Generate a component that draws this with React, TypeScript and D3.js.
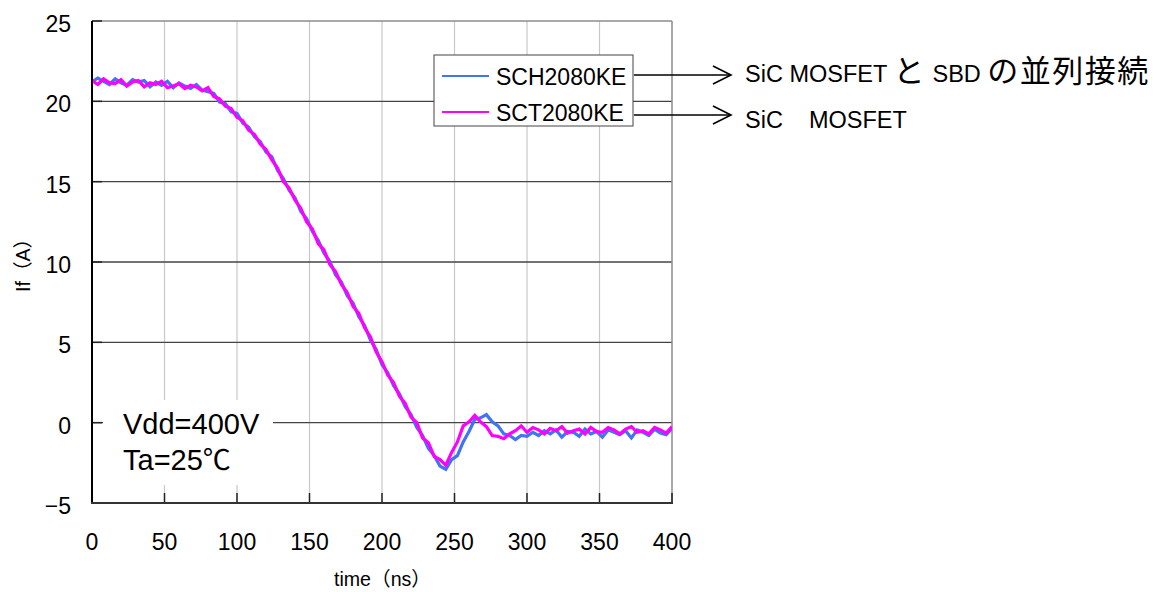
import React from 'react';
import * as d3 from 'd3';

// time axis (ns)
const TIME_NS = [
  0, 4, 8, 12, 16, 20, 24, 28, 32, 36, 40, 44, 48, 52, 56, 60, 64, 68, 72, 76,
  80, 84, 88, 92, 96, 100, 104, 108, 112, 116, 120, 124, 128, 132, 136, 140, 144, 148, 152, 156,
  160, 164, 168, 172, 176, 180, 184, 188, 192, 196, 200, 204, 208, 212, 216, 220, 224, 228, 232, 236,
  240, 244, 248, 252, 256, 260, 264, 268, 272, 276, 280, 284, 288, 292, 296, 300, 304, 308, 312, 316,
  320, 324, 328, 332, 336, 340, 344, 348, 352, 356, 360, 364, 368, 372, 376, 380, 384, 388, 392, 396, 400,
];

// SCH2080KE (SiC MOSFET + SBD), If (A)
const SCH2080KE = [
  21.2, 21.45, 21.25, 21.05, 21.4, 21.15, 21.0, 21.35, 21.2, 21.3, 20.9, 21.2, 21.0, 21.25, 20.85, 21.15, 20.95, 20.8, 21.05, 20.7,
  20.6, 20.5, 19.95, 19.85, 19.35, 19.25, 18.65, 18.4, 17.8, 17.5, 16.85, 16.55, 15.7, 15.2, 14.45, 14.0, 13.15, 12.7, 11.9, 11.35,
  10.55, 10.05, 9.2, 8.75, 7.9, 7.45, 6.6, 6.05, 5.15, 4.55, 3.6, 3.1, 2.3, 1.8, 1.0, 0.5, -0.3, -0.8, -1.6, -2.05,
  -2.7, -2.9, -2.3, -2.05, -1.2, -0.55, 0.2, 0.3, 0.5, 0.05, -0.2, -0.7, -0.8, -1.05, -0.8, -0.85, -0.6, -0.8, -0.5, -0.7,
  -0.45, -0.9, -0.55, -0.6, -0.85, -0.4, -0.7, -0.55, -0.9, -0.45, -0.6, -0.75, -0.5, -0.95, -0.45, -0.6, -0.8, -0.4, -0.65, -0.75, -0.35,
];

// SCT2080KE (SiC MOSFET), If (A)
const SCT2080KE = [
  21.3, 21.05, 21.4, 21.15, 21.1, 21.35, 20.95, 21.2, 21.3, 20.9, 21.15, 21.05, 21.25, 20.85, 20.95, 21.1, 20.8, 21.0, 20.9, 20.65,
  20.85, 20.3, 20.15, 19.7, 19.55, 19.0, 18.8, 18.2, 17.95, 17.35, 17.0, 16.35, 15.85, 15.0, 14.6, 13.85, 13.35, 12.5, 12.05, 11.15,
  10.75, 9.85, 9.4, 8.6, 8.1, 7.25, 6.8, 5.9, 5.35, 4.4, 3.8, 2.95, 2.5, 1.65, 1.2, 0.35, 0.0, -0.95, -1.25, -2.1,
  -2.3, -2.65, -1.85, -1.2, -0.2, 0.05, 0.45, 0.05, -0.25, -0.8, -0.85, -1.0, -0.7, -0.5, -0.2, -0.6, -0.3, -0.45, -0.7, -0.35,
  -0.5, -0.25, -0.65, -0.5, -0.4, -0.7, -0.3, -0.55, -0.6, -0.3, -0.45, -0.7, -0.4, -0.25, -0.6, -0.5, -0.7, -0.3, -0.45, -0.65, -0.25,
];

const SERIES_NAMES = ['SCH2080KE', 'SCT2080KE'];
const SERIES_COLORS = ['#3f74f2', '#ff00ff'];
const X_TICKS = [0, 50, 100, 150, 200, 250, 300, 350, 400];
const Y_TICKS = [-5, 0, 5, 10, 15, 20, 25];
const GRID_Y = [0, 5, 10, 15, 20];
const GRID_X = [50, 100, 150, 200, 250, 300, 350];

const FONT = "'Liberation Sans', Arial, 'Noto Sans CJK JP', sans-serif";
const CJK = "'Noto Sans CJK JP', sans-serif";

export default function App() {
  const W = 1161;
  const H = 592;
  const L = 92, R = 672, T = 21, B = 503;
  const x = d3.scaleLinear().domain([0, 400]).range([L, R]);
  const y = d3.scaleLinear().domain([-5, 25]).range([B, T]);
  const line = d3
    .line<number>()
    .x((_, i) => x(TIME_NS[i]))
    .y((d) => y(d));
  const series = [SCH2080KE, SCT2080KE];

  return (
    <svg
      width={W}
      height={H}
      viewBox={`0 0 ${W} ${H}`}
      style={{ position: 'absolute', left: 0, top: 0, background: '#fff' }}
      fontFamily={FONT}
    >
      <defs>
        <clipPath id="plot">
          <rect x={L} y={T - 2} width={R - L} height={B - T + 4} />
        </clipPath>
      </defs>
      <rect x={0} y={0} width={W} height={H} fill="#fff" />
      {/* vertical grid */}
      {GRID_X.map((v) => (
        <line key={'gx' + v} x1={x(v)} x2={x(v)} y1={T} y2={B} stroke="#c8c8c8" strokeWidth={1.2} />
      ))}
      {/* horizontal grid */}
      {GRID_Y.map((v) => (
        <line key={'gy' + v} x1={L} x2={R} y1={y(v)} y2={y(v)} stroke="#444" strokeWidth={1.3} />
      ))}
      {/* border top / right */}
      <line x1={L} x2={R} y1={T} y2={T} stroke="#8c8c8c" strokeWidth={1.5} />
      <line x1={R} x2={R} y1={T} y2={B} stroke="#8c8c8c" strokeWidth={1.5} />

      {/* condition box */}
      <rect x={103} y={400} width={170} height={85} fill="#fff" />
      <text x={123} y={434} fontSize={29} fill="#000">Vdd=400V</text>
      <text x={123} y={470} fontSize={29} fill="#000">Ta=25<tspan fontFamily={CJK} fontSize={28}>℃</tspan></text>

      {/* ticks */}
      {Y_TICKS.map((v) => (
        <line key={'ty' + v} x1={L} x2={L + 10} y1={y(v)} y2={y(v)} stroke="#222" strokeWidth={1.5} />
      ))}
      {X_TICKS.map((v) => (
        <line key={'tx' + v} x1={x(v)} x2={x(v)} y1={B} y2={B - 10} stroke="#222" strokeWidth={1.5} />
      ))}

      {/* data */}
      <g clipPath="url(#plot)">
        {series.map((s, i) => (
          <path
            key={SERIES_NAMES[i]}
            d={line(s) || ''}
            fill="none"
            stroke={SERIES_COLORS[i]}
            strokeWidth={3.2}
            strokeLinejoin="miter"
          />
        ))}
      </g>

      {/* axes */}
      <line x1={L} x2={L} y1={T} y2={B + 1} stroke="#000" strokeWidth={2} />
      <line x1={L - 1} x2={R + 1} y1={B} y2={B} stroke="#333" strokeWidth={2} />

      {/* tick labels */}
      {Y_TICKS.map((v) => (
        <text key={'ly' + v} x={71} y={y(v) + 11} fontSize={23} textAnchor="end" fill="#000">
          {v < 0 ? '\u2212' + Math.abs(v) : String(v)}
        </text>
      ))}
      {X_TICKS.map((v) => (
        <text key={'lx' + v} x={x(v)} y={550} fontSize={23} textAnchor="middle" fill="#000">
          {String(v)}
        </text>
      ))}

      {/* axis titles */}
      <text x={334} y={586} fontSize={19.6} fill="#000">
        time<tspan fontFamily={CJK}>（</tspan>ns<tspan fontFamily={CJK}>）</tspan>
      </text>
      <text transform="translate(30,292) rotate(-90)" fontSize={19.6} fill="#000">
        If<tspan fontFamily={CJK}>（</tspan>A<tspan fontFamily={CJK}>）</tspan>
      </text>

      {/* legend */}
      <rect x={434} y={55} width={199} height={71} fill="#fff" stroke="#444" strokeWidth={1} />
      {SERIES_NAMES.map((name, i) => (
        <g key={'lg' + name}>
          <line x1={442} x2={489} y1={76 + i * 36} y2={76 + i * 36} stroke={SERIES_COLORS[i]} strokeWidth={2} />
          <text x={496} y={85 + i * 36} fontSize={23} fill="#000">{name}</text>
        </g>
      ))}

      {/* arrows */}
      <line x1={634} x2={731} y1={75} y2={75} stroke="#000" strokeWidth={1.6} />
      <polyline points="713,66 731,75 713,84" fill="none" stroke="#000" strokeWidth={1.6} />
      <line x1={634} x2={731} y1={115} y2={115} stroke="#000" strokeWidth={1.6} />
      <polyline points="713,106 731,115 713,124" fill="none" stroke="#000" strokeWidth={1.6} />

      {/* annotations */}
      <text x={745} y={82} fontSize={23.5} fill="#000">
        {'SiC MOSFET '}
        <tspan fontFamily={CJK} fontSize={31} letterSpacing={1.5}>と</tspan>
        {' SBD '}
        <tspan fontFamily={CJK} fontSize={31} letterSpacing={1.5}>の並列接続</tspan>
      </text>
      <text x={745} y={128} fontSize={23.5} fill="#000">
        {'SiC'}
        <tspan fontFamily={CJK} fontSize={26}>{'\u3000'}</tspan>
        {'MOSFET'}
      </text>
    </svg>
  );
}
